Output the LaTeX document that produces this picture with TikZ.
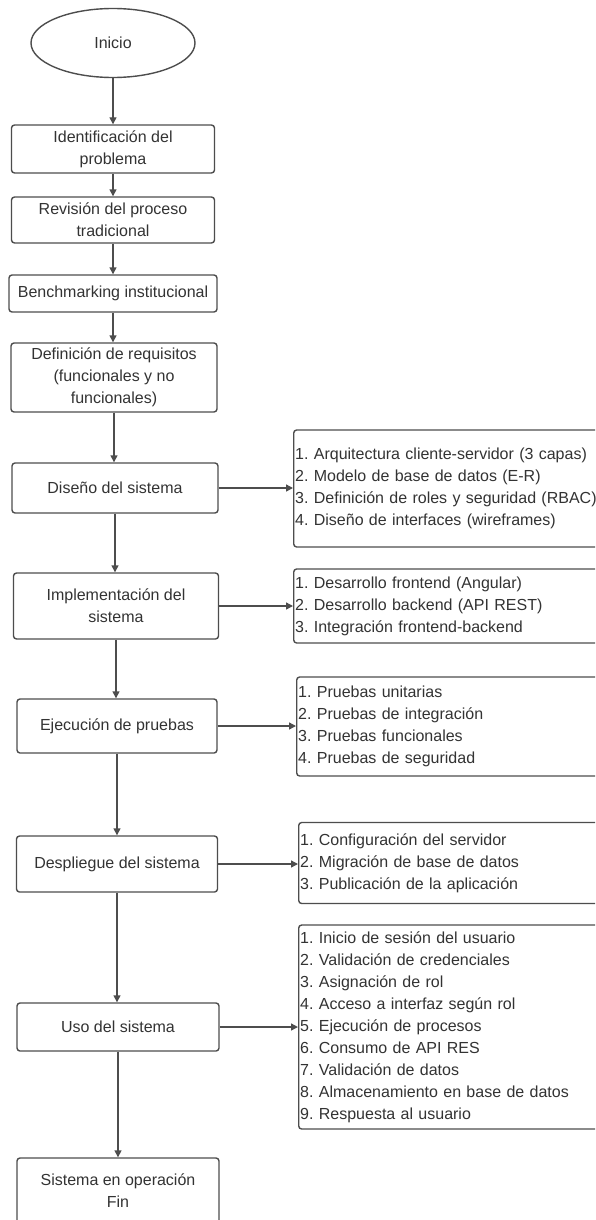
\documentclass[tikz,border=0pt]{standalone}
\usepackage{fontspec}
\setmainfont{Liberation Sans}
\usetikzlibrary{shapes.geometric,arrows.meta}
\definecolor{linec}{HTML}{4D4D4D}
\definecolor{textc}{HTML}{333333}
\newcommand\mainfnt{\fontsize{16}{22}\selectfont\frenchspacing}
\tikzset{
  box/.style={draw=linec, line width=1.4pt, rounded corners=3pt, fill=white, align=center, inner sep=0pt, font=\mainfnt, text=textc},
  listbox/.style={draw=linec, line width=1.4pt, rounded corners=3pt, fill=white, align=left, inner xsep=1.5pt, inner ysep=0pt, text width=316pt, anchor=west, font=\mainfnt, text=textc},
  arr/.style={draw=linec, line width=1.4pt, -{Triangle[length=7pt,width=7pt]}}
}
\begin{document}
\begin{tikzpicture}[x=1pt,y=-1pt]
\useasboundingbox (0,0) rectangle (595,1220);
\fill[white] (0,0) rectangle (595,1220);
\clip (0,0) rectangle (595,1220);

\node[box, ellipse, minimum width=164pt, minimum height=69pt] (e) at (113,43) {Inicio};
\node[box, minimum width=203pt, minimum height=48pt] (b1) at (113,149) {Identificación del\\problema};
\node[box, minimum width=203pt, minimum height=46pt] (b2) at (113,220) {Revisión del proceso\\tradicional};
\node[box, minimum width=208pt, minimum height=37pt] (b3) at (113,293.5) {Benchmarking institucional};
\node[box, minimum width=206pt, minimum height=69pt] (b4) at (114,377.5) {Definición de requisitos\\(funcionales y no\\funcionales)};
\node[box, minimum width=206pt, minimum height=50pt] (b5) at (115,488) {Diseño del sistema};
\node[box, minimum width=205pt, minimum height=66pt] (b6) at (116,606) {Implementación del\\sistema};
\node[box, minimum width=200pt, minimum height=54pt] (b7) at (117,726) {Ejecución de pruebas};
\node[box, minimum width=201pt, minimum height=56pt] (b8) at (117,864) {Despliegue del sistema};
\node[box, minimum width=202pt, minimum height=48pt] (b9) at (118,1027) {Uso del sistema};
\node[box, minimum width=202pt, minimum height=66pt] (b10) at (118,1191) {Sistema en operación\\Fin};

\node[listbox, minimum height=117pt] (ra) at (293,488.5) {1. Arquitectura cliente-servidor (3 capas)\\2. Modelo de base de datos (E-R)\\3. Definición de roles y seguridad (RBAC)\\4. Diseño de interfaces (wireframes)};
\node[listbox, minimum height=74pt] (rb) at (293,606) {1. Desarrollo frontend (Angular)\\2. Desarrollo backend (API REST)\\3. Integración frontend-backend};
\node[listbox, minimum height=99pt] (rc) at (296,726.5) {1. Pruebas unitarias\\2. Pruebas de integración\\3. Pruebas funcionales\\4. Pruebas de seguridad};
\node[listbox, minimum height=81pt] (rd) at (298,863) {1. Configuración del servidor\\2. Migración de base de datos\\3. Publicación de la aplicación};
\node[listbox, minimum height=204pt] (re) at (298,1027) {1. Inicio de sesión del usuario\\2. Validación de credenciales\\3. Asignación de rol\\4. Acceso a interfaz según rol\\5. Ejecución de procesos\\6. Consumo de API RES\\7. Validación de datos\\8. Almacenamiento en base de datos\\9. Respuesta al usuario};

\draw[arr] (e.south) -- (e.south |- b1.north);
\draw[arr] (b1.south) -- (b1.south |- b2.north);
\draw[arr] (b2.south) -- (b2.south |- b3.north);
\draw[arr] (b3.south) -- (b3.south |- b4.north);
\draw[arr] (b4.south) -- (b4.south |- b5.north);
\draw[arr] (b5.south) -- (b5.south |- b6.north);
\draw[arr] (b6.south) -- (b6.south |- b7.north);
\draw[arr] (b7.south) -- (b7.south |- b8.north);
\draw[arr] (b8.south) -- (b8.south |- b9.north);
\draw[arr] (b9.south) -- (b9.south |- b10.north);

\draw[arr] (b5.east) -- (b5.east -| ra.west);
\draw[arr] (b6.east) -- (b6.east -| rb.west);
\draw[arr] (b7.east) -- (b7.east -| rc.west);
\draw[arr] (b8.east) -- (b8.east -| rd.west);
\draw[arr] (b9.east) -- (b9.east -| re.west);
\end{tikzpicture}
\end{document}
